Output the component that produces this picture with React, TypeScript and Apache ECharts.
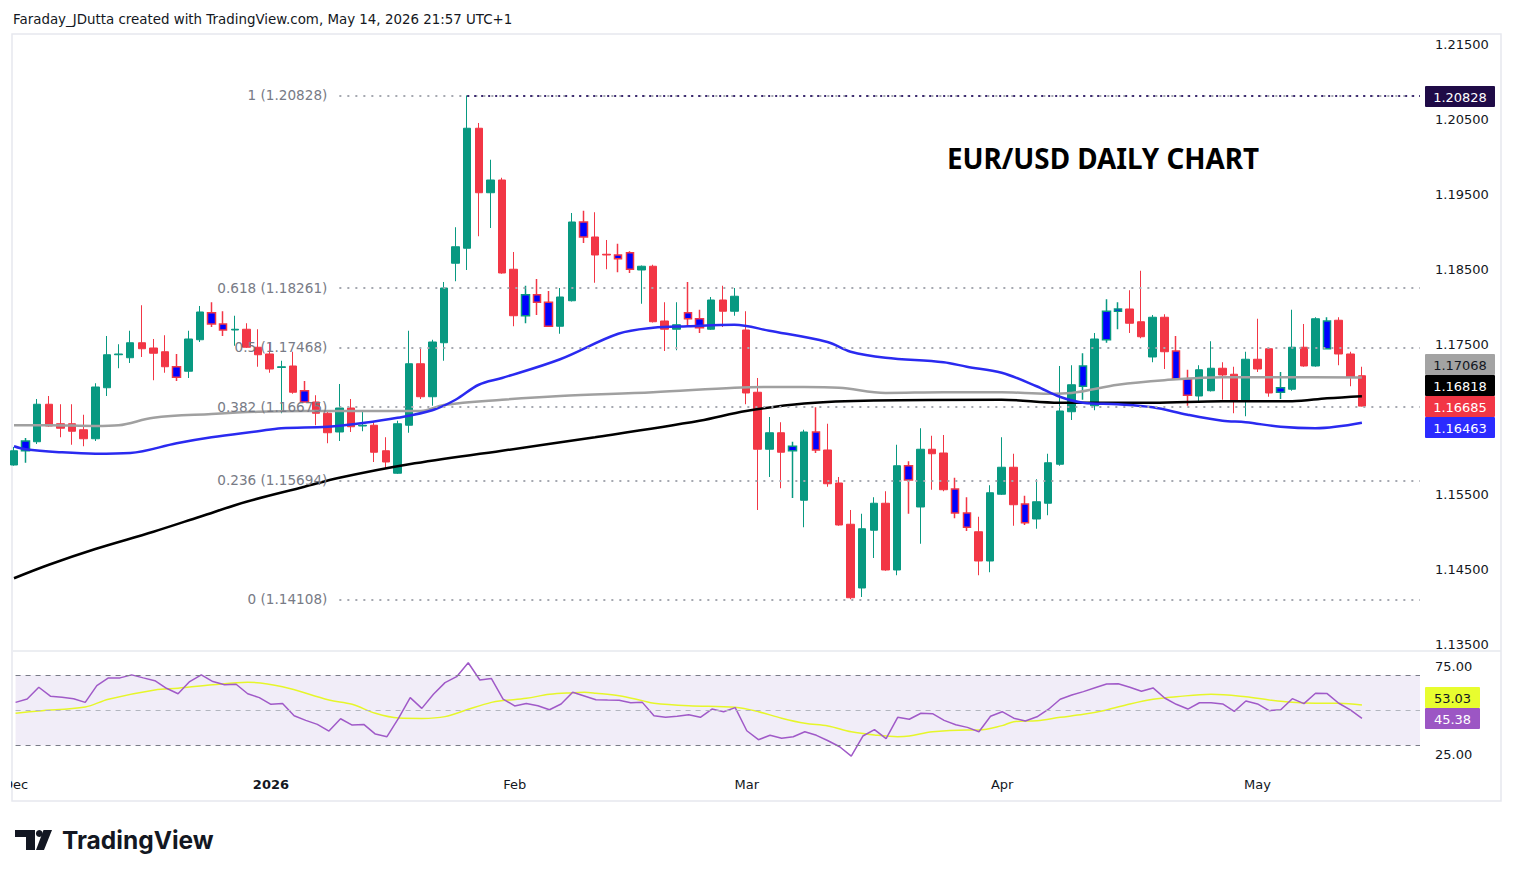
import React, { useEffect, useRef } from "react";
import * as echarts from "echarts";

// ---------- calendar (trading days shown on the chart) ----------
const decDays = [1, 2, 3, 4, 5, 8, 9, 10, 11, 12, 15, 16, 17, 18, 19, 22, 23, 24, 26, 29, 30, 31];
const janDays = [2, 5, 6, 7, 8, 9, 12, 13, 14, 15, 16, 19, 20, 21, 22, 23, 26, 27, 28, 29, 30];
const febDays = [2, 3, 4, 5, 6, 9, 10, 11, 12, 13, 16, 17, 18, 19, 20, 23, 24, 25, 26, 27];
const marDays = [2, 3, 4, 5, 6, 9, 10, 11, 12, 13, 16, 17, 18, 19, 20, 23, 24, 25, 26, 27, 30, 31];
const aprDays = [1, 2, 3, 6, 7, 8, 9, 10, 13, 14, 15, 16, 17, 20, 21, 22, 23, 24, 27, 28, 29, 30];
const mayDays = [1, 4, 5, 6, 7, 8, 11, 12, 13, 14];
const futureDays = [15, 18, 19, 20, 21]; // empty right margin of the chart
const monthLabels = ["Dec", "2026", "Feb", "Mar", "Apr", "May"];

// ---------- EUR/USD daily OHLC ----------
const opens = [
  1.1590, 1.1609, 1.1621, 1.1671, 1.1645, 1.1645, 1.1637, 1.1625, 1.1693, 1.1737,
  1.1733, 1.1753, 1.1746, 1.1741, 1.1721, 1.1715, 1.1757, 1.1793, 1.1778, 1.1770,
  1.1771, 1.1747, 1.1738, 1.1720, 1.1722, 1.1689, 1.1674, 1.1659, 1.1634, 1.1666,
  1.1642, 1.1643, 1.1609, 1.1579, 1.1643, 1.1725, 1.1681, 1.1753, 1.1859, 1.1879,
  1.2039, 1.1953, 1.1970, 1.1851, 1.1789, 1.1817, 1.1807, 1.1775, 1.1809, 1.1914,
  1.1894, 1.1871, 1.1870, 1.1873, 1.1850, 1.1855, 1.1782, 1.1771, 1.1793, 1.1785,
  1.1771, 1.1810, 1.1795, 1.1770, 1.1687, 1.1611, 1.1633, 1.1609, 1.1543, 1.1634,
  1.1610, 1.1566, 1.1511, 1.1426, 1.1503, 1.1539, 1.1450, 1.1589, 1.1534, 1.1611,
  1.1606, 1.1558, 1.1526, 1.1501, 1.1462, 1.1551, 1.1587, 1.1538, 1.1518, 1.1539,
  1.1591, 1.1661, 1.1695, 1.1669, 1.1757, 1.1795, 1.1798, 1.1781, 1.1734, 1.1787,
  1.1742, 1.1705, 1.1682, 1.1689, 1.1719, 1.1711, 1.1675, 1.1731, 1.1745, 1.1687,
  1.1691, 1.1747, 1.1722, 1.1745, 1.1783, 1.1738, 1.1709,
];
const closes = [
  1.1609, 1.1622, 1.1671, 1.1642, 1.1639, 1.1635, 1.1625, 1.1694, 1.1737, 1.1738,
  1.1753, 1.1745, 1.1739, 1.1721, 1.1707, 1.1758, 1.1794, 1.1778, 1.1770, 1.1771,
  1.1747, 1.1737, 1.1718, 1.1721, 1.1687, 1.1674, 1.1659, 1.1633, 1.1666, 1.1641,
  1.1643, 1.1607, 1.1594, 1.1645, 1.1725, 1.1681, 1.1754, 1.1826, 1.1881, 1.2039,
  1.1953, 1.1970, 1.1846, 1.1789, 1.1817, 1.1807, 1.1775, 1.1814, 1.1914, 1.1894,
  1.1870, 1.1870, 1.1865, 1.1851, 1.1855, 1.1781, 1.1771, 1.1777, 1.1785, 1.1773,
  1.1810, 1.1795, 1.1815, 1.1686, 1.1611, 1.1633, 1.1607, 1.1615, 1.1634, 1.1610,
  1.1565, 1.1510, 1.1413, 1.1505, 1.1539, 1.1450, 1.1589, 1.1570, 1.1611, 1.1605,
  1.1557, 1.1526, 1.1507, 1.1462, 1.1553, 1.1587, 1.1537, 1.1513, 1.1541, 1.1593,
  1.1662, 1.1697, 1.1722, 1.1758, 1.1795, 1.1798, 1.1779, 1.1761, 1.1787, 1.1741,
  1.1705, 1.1683, 1.1717, 1.1719, 1.1710, 1.1675, 1.1731, 1.1718, 1.1686, 1.1693,
  1.1747, 1.1722, 1.1785, 1.1782, 1.1738, 1.1707, 1.16685,
];
const lows = [
  1.1589, 1.1593, 1.1618, 1.1641, 1.1627, 1.1617, 1.1615, 1.1622, 1.1682, 1.1719,
  1.1726, 1.1734, 1.1703, 1.1713, 1.1702, 1.1706, 1.1754, 1.1774, 1.1762, 1.1749,
  1.1746, 1.1721, 1.1713, 1.1659, 1.1685, 1.1673, 1.1643, 1.1619, 1.1622, 1.1634,
  1.1635, 1.1594, 1.1585, 1.1578, 1.1633, 1.1678, 1.1669, 1.1729, 1.1835, 1.1850,
  1.1895, 1.1906, 1.1845, 1.1775, 1.1779, 1.1790, 1.1774, 1.1765, 1.1808, 1.1886,
  1.1833, 1.1851, 1.1847, 1.1846, 1.1805, 1.1780, 1.1742, 1.1743, 1.1774, 1.1766,
  1.1770, 1.1774, 1.1789, 1.1671, 1.1530, 1.1574, 1.1559, 1.1546, 1.1507, 1.1606,
  1.1561, 1.1509, 1.1411, 1.1414, 1.1466, 1.1449, 1.1443, 1.1525, 1.1485, 1.1557,
  1.1555, 1.1519, 1.1502, 1.1443, 1.1447, 1.1550, 1.1509, 1.1510, 1.1505, 1.1523,
  1.1589, 1.1650, 1.1677, 1.1663, 1.1753, 1.1771, 1.1766, 1.1759, 1.1727, 1.1718,
  1.1704, 1.1669, 1.1673, 1.1688, 1.1677, 1.1659, 1.1655, 1.1714, 1.1681, 1.1678,
  1.1689, 1.1721, 1.1721, 1.1744, 1.1723, 1.1695, 1.1668,
];
const highs = [
  1.1614, 1.1626, 1.1678, 1.1682, 1.1671, 1.1671, 1.1657, 1.1699, 1.1762, 1.1751,
  1.1769, 1.1803, 1.1758, 1.1763, 1.1738, 1.1769, 1.1802, 1.1807, 1.1795, 1.1789,
  1.1779, 1.1771, 1.1753, 1.1729, 1.1741, 1.1702, 1.1683, 1.1661, 1.1698, 1.1678,
  1.1662, 1.1647, 1.1627, 1.1649, 1.1769, 1.1745, 1.1757, 1.1834, 1.1907, 1.20828,
  1.2046, 1.1997, 1.1973, 1.1874, 1.1829, 1.1838, 1.1822, 1.1826, 1.1926, 1.1929,
  1.1927, 1.1890, 1.1885, 1.1875, 1.1856, 1.1857, 1.1807, 1.1807, 1.1834, 1.1797,
  1.1814, 1.1829, 1.1826, 1.1795, 1.1706, 1.1654, 1.1647, 1.1621, 1.1637, 1.1667,
  1.1645, 1.1574, 1.1530, 1.1525, 1.1547, 1.1555, 1.1617, 1.1595, 1.1639, 1.1629,
  1.1630, 1.1573, 1.1547, 1.1521, 1.1563, 1.1627, 1.1605, 1.1549, 1.1571, 1.1605,
  1.1722, 1.1723, 1.1739, 1.1766, 1.1811, 1.1807, 1.1823, 1.1849, 1.1790, 1.1791,
  1.1762, 1.1717, 1.1723, 1.1755, 1.1727, 1.1721, 1.1741, 1.1785, 1.1747, 1.1714,
  1.1797, 1.1778, 1.1787, 1.1787, 1.1787, 1.1741, 1.1721,
];
// bars painted blue by the chart's bar-colour indicator
const blueBars = [1, 14, 17, 18, 25, 44, 45, 46, 49, 52, 53, 58, 59, 67, 69, 77, 81, 82, 87, 92, 94, 95, 100, 101, 109, 113];

// ---------- moving averages, read at [bar index, price] ----------
const ma50 = [
  [0, 1.1615], [1, 1.1611], [4, 1.1607], [7, 1.1605], [10, 1.1606], [14, 1.1619], [17, 1.1627],
  [21, 1.1635], [23, 1.1639], [27, 1.1641], [30, 1.1646], [33, 1.1653], [36, 1.1663], [38, 1.1677],
  [40, 1.1697], [42, 1.1706], [47, 1.1731], [52, 1.1765], [55, 1.1773], [58, 1.1775], [62, 1.1777],
  [65, 1.1769], [70, 1.1754], [72, 1.1741], [75, 1.1733], [80, 1.1727], [82, 1.1721], [85, 1.1713],
  [88, 1.1695], [90, 1.1681], [92, 1.1673], [95, 1.1671], [98, 1.1667], [101, 1.1657], [104, 1.1649],
  [106, 1.1647], [109, 1.1641], [112, 1.1639], [116, 1.16463],
];
const ma100 = [
  [0, 1.1643], [3, 1.1643], [7, 1.1642], [9, 1.1643], [12, 1.1653], [17, 1.1658], [21, 1.1661],
  [25, 1.1662], [35, 1.1662], [37, 1.1670], [42, 1.1677], [47, 1.1682], [55, 1.1687], [62, 1.1693],
  [65, 1.1694], [68, 1.1694], [71, 1.1693], [75, 1.1686], [80, 1.1687], [85, 1.1687], [89, 1.1685],
  [91, 1.1686], [95, 1.1697], [99, 1.1703], [104, 1.1707], [109, 1.1707], [116, 1.17068],
];
const ma200 = [
  [0, 1.1439], [3, 1.1457], [7, 1.1478], [12, 1.1501], [16, 1.1521], [20, 1.1541], [25, 1.1561],
  [28, 1.1573], [34, 1.1591], [42, 1.1609], [50, 1.1627], [59, 1.1649], [63, 1.1662], [68, 1.1672],
  [74, 1.1676], [85, 1.1677], [90, 1.1673], [98, 1.1673], [104, 1.1675], [110, 1.1675], [113, 1.1679],
  [116, 1.16818],
];

// ---------- Fibonacci retracement ----------
const fibRatios = ["1", "0.618", "0.5", "0.382", "0.236", "0"];
const fibLevels = [1.20828, 1.18261, 1.17468, 1.16675, 1.15694, 1.14108];
const fibStartBar = 28;
const swingHighBar = 39;

// ---------- RSI(14) and its moving average ----------
const rsi = [
  54.5, 56.4, 63.1, 58.0, 57.4, 56.6, 54.5, 64.0, 68.4, 68.4,
  70.1, 68.4, 66.8, 62.5, 59.4, 66.3, 70.1, 66.3, 64.5, 64.8,
  59.4, 57.2, 53.4, 53.8, 46.9, 44.3, 42.0, 38.2, 45.2, 41.6,
  42.0, 36.5, 35.0, 45.5, 57.2, 51.1, 59.1, 65.7, 69.1, 77.0,
  67.2, 68.0, 56.4, 52.5, 53.8, 52.6, 50.3, 53.6, 60.2, 58.1,
  56.0, 55.8, 55.7, 54.3, 54.5, 46.9, 46.0, 46.6, 47.5, 46.0,
  50.7, 49.2, 51.5, 38.4, 33.3, 35.8, 34.1, 35.0, 37.8, 35.8,
  32.7, 29.3, 24.0, 35.4, 39.0, 33.9, 46.0, 44.9, 48.3, 48.1,
  44.3, 41.8, 40.3, 37.8, 46.6, 49.2, 45.5, 43.9, 46.3, 50.6,
  56.3, 58.7, 60.6, 62.8, 64.9, 65.1, 63.1, 60.8, 62.7, 57.0,
  53.4, 50.7, 54.3, 54.3, 53.6, 49.4, 55.3, 53.6, 49.8, 50.3,
  56.6, 53.8, 59.7, 59.5, 54.0, 50.2, 45.38,
];
const rsiMa = [
  [0, 48.3], [2, 49.6], [6, 51.9], [8, 56.3], [12, 61.5], [14, 62.5], [17, 64.5], [20, 65.9],
  [23, 63.4], [27, 55.9], [29, 53.4], [31, 48.3], [33, 45.6], [35, 45.4], [37, 46.4], [39, 50.6],
  [41, 54.5], [42, 55.5], [44, 56.8], [46, 59.1], [48, 60.0], [49, 60.2], [50, 59.7], [52, 58.3],
  [54, 55.5], [55, 54.0], [58, 52.6], [62, 51.7], [64, 49.2], [66, 45.5], [68, 42.6], [70, 41.1],
  [72, 37.8], [74, 36.0], [76, 35.0], [77, 35.4], [79, 37.8], [82, 38.8], [83, 38.8], [85, 41.3],
  [86, 43.5], [88, 44.1], [90, 46.0], [92, 47.7], [94, 50.2], [96, 53.6], [98, 56.3], [100, 57.7],
  [103, 59.1], [106, 57.7], [108, 55.9], [110, 54.5], [112, 54.0], [114, 54.0], [116, 53.03],
];

// price-scale labels that stay visible (1.16500 is hidden under the price tags)
const priceTicks = [1.135, 1.145, 1.155, 1.175, 1.185, 1.195, 1.205, 1.215];
const rsiTicks = [25, 75];

// ---------- styling ----------
const UP = "#089981";
const DOWN = "#f23645";
const BLUE = "#0000ff";
const AXIS_FONT = "DejaVu Sans";
const TEXT = "#131722";

function buildCategories() {
  const months: [string, number[]][] = [
    ["2025-12", decDays],
    ["2026-01", janDays],
    ["2026-02", febDays],
    ["2026-03", marDays],
    ["2026-04", aprDays],
    ["2026-05", mayDays.concat(futureDays)],
  ];
  const cats: string[] = [];
  const starts: number[] = [];
  months.forEach(([ym, days]) => {
    starts.push(cats.length);
    days.forEach((d) => cats.push(`${ym}-${String(d).padStart(2, "0")}`));
  });
  return { cats, starts };
}

export default function App() {
  const ref = useRef<HTMLDivElement>(null);

  useEffect(() => {
    if (!ref.current) return;
    const chart = echarts.init(ref.current, undefined, { renderer: "svg" });
    const { cats, starts } = buildCategories();
    const lastCat = cats[cats.length - 1];
    const blueSet = new Set(blueBars);

    const candles = opens.map((o, i) => {
      const c = closes[i];
      const item: any = { value: [o, c, lows[i], highs[i]] };
      if (blueSet.has(i)) {
        const edge = c >= o ? UP : DOWN;
        item.itemStyle = { color: BLUE, color0: BLUE, borderColor: edge, borderColor0: edge, borderWidth: 1.5 };
      }
      return item;
    });

    const fibLines: any[] = fibLevels.map((lvl, k) => [
      {
        coord: [cats[fibStartBar], lvl],
        label: { formatter: `${fibRatios[k]} (${lvl.toFixed(5)})` },
      },
      { coord: [lastCat, lvl] },
    ]);

    const n = opens.length;
    const tagW = 70;
    const tagX = 1425;
    const priceTags = [
      { text: highs[swingHighBar].toFixed(5), y: 86, bg: "#1f0b47", fg: "#ffffff" },
      { text: ma100[ma100.length - 1][1].toFixed(5), y: 354, bg: "#a3a3a3", fg: TEXT },
      { text: ma200[ma200.length - 1][1].toFixed(5), y: 375, bg: "#000000", fg: "#ffffff" },
      { text: closes[n - 1].toFixed(5), y: 396, bg: DOWN, fg: "#ffffff" },
      { text: ma50[ma50.length - 1][1].toFixed(5), y: 417, bg: "#2b2bff", fg: "#ffffff" },
    ];
    const rsiTags = [
      { text: rsiMa[rsiMa.length - 1][1].toFixed(2), y: 687, bg: "#e8fd2f", fg: TEXT },
      { text: rsi[n - 1].toFixed(2), y: 708, bg: "#9c56c4", fg: "#ffffff" },
    ];
    const tagEls = (list: any[], w: number) =>
      list.map((t) => ({
        type: "group",
        children: [
          { type: "rect", shape: { x: tagX, y: t.y, width: w, height: 21, r: 1 }, style: { fill: t.bg } },
          {
            type: "text",
            x: tagX + w / 2,
            y: t.y + 11,
            style: { text: t.text, fill: t.fg, font: `13px ${AXIS_FONT}`, align: "center", verticalAlign: "middle" },
          },
        ],
      }));

    const xAxisBase = {
      type: "category",
      data: cats,
      boundaryGap: false,
      axisLine: { show: false },
      axisTick: { show: false },
      splitLine: { show: false },
    };

    const option: any = {
      animation: false,
      backgroundColor: "#ffffff",
      grid: [
        { left: 14, right: 94, top: 35, height: 615 },
        { left: 14, right: 94, top: 652, height: 118 },
      ],
      xAxis: [
        { ...xAxisBase, gridIndex: 0, axisLabel: { show: false } },
        {
          ...xAxisBase,
          gridIndex: 1,
          axisLabel: {
            interval: (idx: number) => starts.includes(idx),
            formatter: (_v: string, idx: number) => {
              const k = starts.indexOf(idx);
              if (k < 0) return "";
              const lab = monthLabels[k];
              return /^\d+$/.test(lab) ? `{b|${lab}}` : lab;
            },
            color: TEXT,
            fontSize: 13,
            fontFamily: AXIS_FONT,
            margin: 8,
            rich: { b: { fontWeight: "bold", fontSize: 13, fontFamily: AXIS_FONT, color: TEXT } },
          },
        },
      ],
      yAxis: [
        {
          type: "value",
          gridIndex: 0,
          position: "right",
          min: 1.134333,
          max: 1.216333,
          axisLine: { show: false },
          axisTick: { show: false },
          splitLine: { show: false },
          axisLabel: {
            customValues: priceTicks,
            formatter: (v: number) => v.toFixed(5),
            margin: 15,
            color: TEXT,
            fontSize: 13,
            fontFamily: AXIS_FONT,
          },
        },
        {
          type: "value",
          gridIndex: 1,
          position: "right",
          min: 16.1,
          max: 83.1,
          axisLine: { show: false },
          axisTick: { show: false },
          splitLine: { show: false },
          axisLabel: {
            customValues: rsiTicks,
            formatter: (v: number) => v.toFixed(2),
            margin: 15,
            color: TEXT,
            fontSize: 13,
            fontFamily: AXIS_FONT,
          },
        },
      ],
      series: [
        {
          name: "fib",
          type: "line",
          xAxisIndex: 0,
          yAxisIndex: 0,
          data: [],
          z: 1,
          silent: true,
          markLine: {
            silent: true,
            symbol: ["none", "none"],
            animation: false,
            label: {
              show: true,
              position: "start",
              distance: 12,
              color: "#787b86",
              fontSize: 13.6,
              fontFamily: AXIS_FONT,
            },
            lineStyle: { color: "#a5a8b0", width: 2, type: [2, 6] },
            emphasis: { disabled: true },
            data: fibLines,
          },
        },
        {
          name: "swingHigh",
          type: "line",
          xAxisIndex: 0,
          yAxisIndex: 0,
          data: [],
          z: 2,
          silent: true,
          markLine: {
            silent: true,
            symbol: ["none", "none"],
            animation: false,
            label: { show: false },
            lineStyle: { color: "#3b2870", width: 2, type: [2, 5] },
            emphasis: { disabled: true },
            data: [[{ coord: [cats[swingHighBar], fibLevels[0]] }, { coord: [lastCat, fibLevels[0]] }]],
          },
        },
        {
          name: "EURUSD",
          type: "candlestick",
          xAxisIndex: 0,
          yAxisIndex: 0,
          data: candles,
          barWidth: 8,
          z: 3,
          itemStyle: { color: UP, color0: DOWN, borderColor: UP, borderColor0: DOWN, borderWidth: 1 },
        },
        {
          name: "MA100",
          type: "line",
          xAxisIndex: 0,
          yAxisIndex: 0,
          data: ma100,
          smooth: 0.35,
          symbol: "none",
          z: 4,
          lineStyle: { color: "#a0a0a0", width: 2.5 },
        },
        {
          name: "MA200",
          type: "line",
          xAxisIndex: 0,
          yAxisIndex: 0,
          data: ma200,
          smooth: 0.35,
          symbol: "none",
          z: 4,
          lineStyle: { color: "#000000", width: 2.5 },
        },
        {
          name: "MA50",
          type: "line",
          xAxisIndex: 0,
          yAxisIndex: 0,
          data: ma50,
          smooth: 0.35,
          symbol: "none",
          z: 4,
          lineStyle: { color: "#2a2af0", width: 2.5 },
        },
        {
          name: "RSI",
          type: "line",
          xAxisIndex: 1,
          yAxisIndex: 1,
          data: rsi,
          symbol: "none",
          z: 4,
          lineStyle: { color: "#a05ac8", width: 1.5 },
          markArea: {
            silent: true,
            itemStyle: { color: "rgba(126,87,194,0.11)" },
            data: [[{ yAxis: 70 }, { yAxis: 30 }]],
          },
          markLine: {
            silent: true,
            symbol: ["none", "none"],
            label: { show: false },
            emphasis: { disabled: true },
            data: [
              { yAxis: 70, lineStyle: { color: "#787b86", width: 1.2, type: [5, 5] } },
              { yAxis: 50, lineStyle: { color: "#b2b5be", width: 1.2, type: [5, 5] } },
              { yAxis: 30, lineStyle: { color: "#787b86", width: 1.2, type: [5, 5] } },
            ],
          },
        },
        {
          name: "RSI MA",
          type: "line",
          xAxisIndex: 1,
          yAxisIndex: 1,
          data: rsiMa,
          smooth: 0.35,
          symbol: "none",
          z: 3,
          lineStyle: { color: "#e6f62a", width: 1.5 },
        },
      ],
      graphic: [
        {
          type: "rect",
          silent: true,
          shape: { x: 12, y: 34, width: 1489, height: 767 },
          style: { fill: "none", stroke: "#e6e8ee", lineWidth: 1.5 },
        },
        {
          type: "line",
          silent: true,
          shape: { x1: 13, y1: 651, x2: 1501, y2: 651 },
          style: { stroke: "#e6e8ee", lineWidth: 1.5 },
        },
        {
          type: "rect",
          silent: true,
          shape: { x: 0, y: 774, width: 11, height: 22 },
          style: { fill: "#ffffff" },
          z: 200,
        },
        {
          type: "text",
          x: 13,
          y: 19,
          style: {
            text: "Faraday_JDutta created with TradingView.com, May 14, 2026 21:57 UTC+1",
            fill: TEXT,
            font: `13.4px ${AXIS_FONT}`,
            verticalAlign: "middle",
          },
        },
        {
          type: "text",
          x: 947,
          y: 158,
          style: {
            text: "EUR/USD DAILY CHART",
            fill: "#000000",
            font: "bold 27.8px 'Noto Sans'",
            verticalAlign: "middle",
          },
        },
        // TradingView logo
        {
          type: "polygon",
          silent: true,
          shape: { points: [[15, 830], [35, 830], [35, 850], [26, 850], [26, 837], [15, 837]] },
          style: { fill: TEXT },
        },
        { type: "circle", silent: true, shape: { cx: 39.3, cy: 833.5, r: 3.4 }, style: { fill: TEXT } },
        {
          type: "polygon",
          silent: true,
          shape: { points: [[43.5, 830], [52, 830], [44, 850], [36, 850]] },
          style: { fill: TEXT },
        },
        {
          type: "text",
          x: 62,
          y: 840,
          style: { text: "TradingView", fill: TEXT, font: "bold 24.5px Inter", verticalAlign: "middle" },
        },
        ...tagEls(priceTags, tagW),
        ...tagEls(rsiTags, 55),
      ],
    };

    chart.setOption(option);
    return () => chart.dispose();
  }, []);

  return (
    <div
      ref={ref}
      style={{ position: "fixed", left: 0, top: 0, width: 1514, height: 877, background: "#ffffff" }}
    />
  );
}
